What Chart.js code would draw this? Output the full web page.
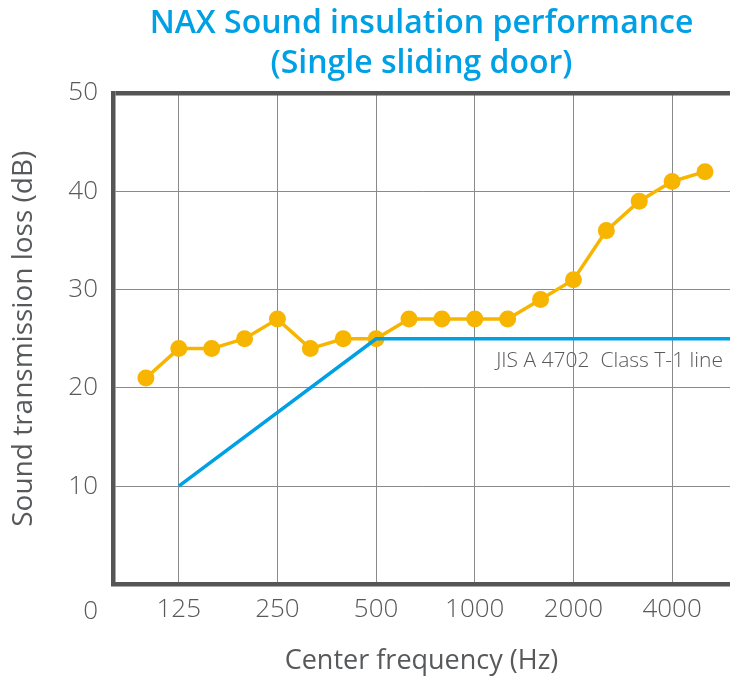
<!DOCTYPE html>
<html>
<head>
<meta charset="utf-8">
<script src="https://cdn.jsdelivr.net/npm/chart.js@4/dist/chart.umd.min.js"></script>
<style>
  html, body { margin: 0; padding: 0; background: #fff; overflow: hidden; }
  #wrap { width: 730px; height: 682px; position: relative; }
  #sound-chart { display: block; }
</style>
</head>
<body>
<div id="wrap"><canvas id="sound-chart"></canvas></div>
<script>
// 1/3 octave band centre frequencies (Hz)
const bands = ['100', '125', '160', '200', '250', '315', '400', '500', '630', '800',
  '1000', '1250', '1600', '2000', '2500', '3150', '4000', '5000', '6300'];
// measured sound transmission loss, single sliding door (dB)
const doorLoss = [21, 24, 24, 25, 27, 24, 25, 25, 27, 27, 27, 27, 29, 31, 36, 39, 41, 42];
// JIS A 4702 Class T-1 reference line
const classBands = ['125', '500', '6300'];
const classLoss = [10, 25, 25];
// labelled frequencies on the x axis
const tickLabels = ['125', '250', '500', '1000', '2000', '4000'];
const yTicks = [0, 10, 20, 30, 40, 50];

const textGrey = '#58595b';
const fontName = '"Open Sans"';

const idx = f => bands.indexOf(f);

// plot runs off the right edge of the canvas, stretch the area to it
const fullRight = {
  id: 'fullRight',
  afterLayout(chart) {
    const area = chart.chartArea;
    const x = chart.scales.x;
    const extra = chart.width - area.right;
    if (extra <= 0) return;
    area.right += extra;
    area.width += extra;
    x.right += extra;
    x.width += extra;
    x.configure();
    if (chart.titleBlock) {
      chart.titleBlock.right += extra;
      chart.titleBlock.width += extra;
    }
  }
};

// corner "0" and the class line caption
const extraText = {
  id: 'extraText',
  afterDraw(chart) {
    const {ctx, scales: {y}, chartArea} = chart;
    ctx.save();
    ctx.fillStyle = textGrey;
    ctx.font = '300 26px ' + fontName;
    ctx.textAlign = 'right';
    ctx.textBaseline = 'middle';
    ctx.fillText('0', 98, 612);
    ctx.font = '300 21px ' + fontName;
    ctx.fillText('JIS A 4702  Class T-1 line', chartArea.right - 7, y.getPixelForValue(classLoss[2]) + 22);
    ctx.restore();
  }
};

new Chart(document.getElementById('sound-chart'), {
  type: 'line',
  data: {
    datasets: [
      {
        label: 'JIS A 4702 Class T-1 line',
        data: classBands.map((f, i) => ({x: idx(f), y: classLoss[i]})),
        borderColor: '#00a0e4',
        borderWidth: 3.5,
        pointRadius: 0,
        fill: false
      },
      {
        label: 'NAX',
        data: doorLoss.map((v, i) => ({x: i, y: v})),
        borderColor: '#f7b500',
        backgroundColor: '#f7b500',
        borderWidth: 3.5,
        pointRadius: 8.5,
        pointBorderWidth: 0,
        fill: false
      }
    ]
  },
  options: {
    responsive: true,
    maintainAspectRatio: false,
    animation: false,
    layout: { padding: 0 },
    plugins: {
      legend: { display: false },
      tooltip: { enabled: false },
      title: {
        display: true,
        fullSize: false,
        text: ['NAX Sound insulation performance', '(Single sliding door)'],
        color: '#00a0e4',
        font: { family: fontName, size: 32, weight: '600', lineHeight: 1.25 },
        padding: { top: 4, bottom: 9 }
      }
    },
    scales: {
      x: {
        type: 'linear',
        min: -1,
        max: 17.76,
        afterBuildTicks: scale => {
          scale.ticks = tickLabels.map(f => ({value: idx(f)}));
        },
        afterFit: scale => {
          scale.height = 97.5;
          scale.paddingLeft = 0;
          scale.paddingRight = 0;
        },
        ticks: {
          callback: v => bands[v],
          color: textGrey,
          font: { family: fontName, size: 26, weight: '300' },
          padding: 9,
          maxRotation: 0,
          autoSkip: false
        },
        grid: { color: '#8a8a8a', lineWidth: 1, drawTicks: false },
        border: { display: true, color: '#555555', width: 4.5 },
        title: {
          display: true,
          text: 'Center frequency (Hz)',
          color: textGrey,
          font: { family: fontName, size: 27, weight: '400' },
          padding: { top: 0 }
        }
      },
      y: {
        min: 0,
        max: 50,
        afterBuildTicks: scale => {
          scale.ticks = yTicks.map(v => ({value: v}));
        },
        afterFit: scale => { scale.width = 113; },
        ticks: {
          callback: v => v === 0 ? '' : v,
          color: textGrey,
          font: { family: fontName, size: 26, weight: '300' },
          padding: 15
        },
        grid: {
          color: c => c.tick && c.tick.value === 50 ? '#555555' : '#8a8a8a',
          lineWidth: c => c.tick && c.tick.value === 50 ? 4.5 : 1,
          drawTicks: false
        },
        border: { display: true, color: '#555555', width: 4.5 },
        title: {
          display: true,
          text: 'Sound transmission loss (dB)',
          color: textGrey,
          font: { family: fontName, size: 28, weight: '400' },
          padding: { bottom: 0, top: 7 }
        }
      }
    }
  },
  plugins: [fullRight, extraText]
});
</script>
</body>
</html>
